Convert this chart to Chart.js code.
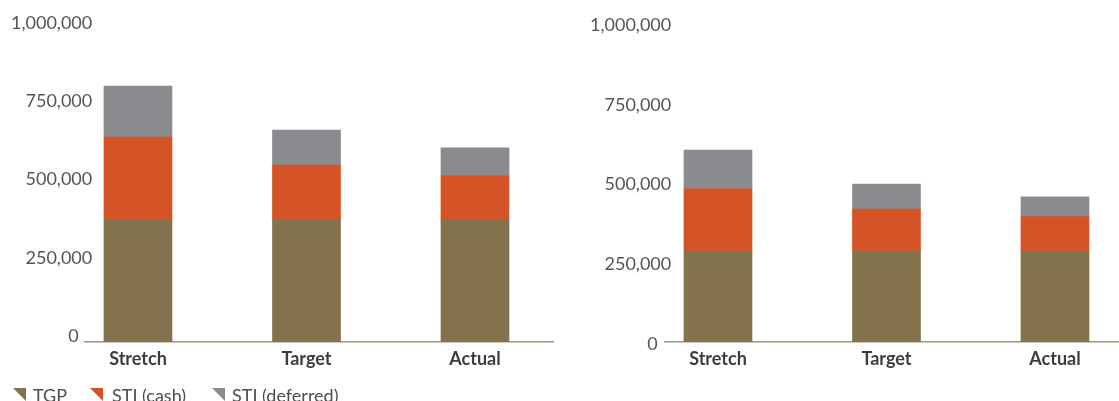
<!DOCTYPE html>
<html>
<head>
<meta charset="utf-8">
<script src="https://cdn.jsdelivr.net/npm/chart.js@4.4.1/dist/chart.umd.min.js"></script>
<style>
  html, body { margin: 0; padding: 0; background: #fff; }
  body { width: 1119px; height: 401px; position: relative; overflow: hidden; font-family: Lato, "Open Sans", sans-serif; }
  .box { position: absolute; top: 0; height: 401px; }
  #leftBox { left: 0; width: 560px; }
  #rightBox { left: 580px; width: 539px; }
  .legend { position: absolute; left: 0; top: 384px; width: 500px; height: 20px; font-size: 18px; color: #4d4d4d; }
  .mark { position: absolute; top: 4px; width: 13px; height: 13px; clip-path: polygon(0 0, 100% 0, 100% 100%); }
  .txt { position: absolute; top: 1px; line-height: 20px; white-space: nowrap; }
</style>
</head>
<body>
<div class="box" id="leftBox"><canvas id="left" width="560" height="401"></canvas></div>
<div class="box" id="rightBox"><canvas id="right" width="539" height="401"></canvas></div>
<div class="legend" id="legend"></div>
<script>
// Categories and stacked components
const categories = ['Stretch', 'Target', 'Actual'];
const seriesNames = ['TGP', 'STI (cash)', 'STI (deferred)'];
const seriesColors = ['#83734d', '#d45427', '#8a8b8f'];

// Left panel
const leftTGP = [390000, 390000, 390000];
const leftCash = [265000, 175000, 141000];
const leftDeferred = [163000, 112000, 89000];

// Right panel
const rightTGP = [285000, 285000, 285000];
const rightCash = [195000, 132000, 108000];
const rightDeferred = [122000, 78000, 62000];

const yTicks = [0, 250000, 500000, 750000, 1000000];

function fmt(v) { return v.toLocaleString('en-US'); }

function makeChart(id, series, opts) {
  const datasets = series.map((vals, i) => ({
    label: seriesNames[i],
    data: vals.map((v, j) => ({ x: j, y: v })),
    backgroundColor: seriesColors[i],
    borderWidth: 0,
    barThickness: 68
  }));
  return new Chart(document.getElementById(id), {
    type: 'bar',
    data: { datasets },
    options: {
      responsive: false,
      animation: false,
      events: [],
      layout: { padding: { left: 0, right: opts.padRight, top: opts.padTop, bottom: 0 } },
      plugins: { legend: { display: false }, tooltip: { enabled: false } },
      scales: {
        x: {
          type: 'linear',
          offset: false,
          stacked: true,
          min: opts.xMin,
          max: opts.xMax,
          afterBuildTicks: s => { s.ticks = categories.map((c, i) => ({ value: i })); },
          afterFit: s => { s.height = 59; },
          grid: { display: false, drawTicks: false },
          border: { display: true, color: '#a59670', width: 1.5 },
          ticks: {
            autoSkip: false,
            maxRotation: 0,
            padding: 6,
            color: '#3d3d3d',
            font: { family: 'Lato', size: 18, weight: 'bold' },
            callback: v => categories[v]
          }
        },
        y: {
          stacked: true,
          min: 0,
          max: 1000000,
          afterBuildTicks: s => { s.ticks = yTicks.map(v => ({ value: v })); },
          afterFit: s => { s.width = 85; },
          grid: { display: false, drawTicks: false },
          border: { display: false },
          ticks: {
            mirror: true,
            crossAlign: 'far',
            padding: opts.tickPad,
            labelOffset: opts.labelOffset,
            color: '#555',
            font: { family: 'Lato', size: 18 },
            callback: v => v === 0 ? '0\u2003' : fmt(v)
          }
        }
      }
    }
  });
}

// Right-aligned tick labels end just past the axis start: widest label is ~82px
makeChart('left', [leftTGP, leftCash, leftDeferred],
  { padRight: 7, padTop: 29, xMin: -0.3145, xMax: 2.463, tickPad: -74, labelOffset: -6 });
makeChart('right', [rightTGP, rightCash, rightDeferred],
  { padRight: 0, padTop: 23, xMin: -0.3145, xMax: 2.38, tickPad: -75, labelOffset: 2 });

// Shared legend
const legendPos = [[13, 33], [90, 112], [212, 232]];
const legend = document.getElementById('legend');
seriesNames.forEach((name, i) => {
  const m = document.createElement('div');
  m.className = 'mark';
  m.style.left = legendPos[i][0] + 'px';
  m.style.background = seriesColors[i];
  const t = document.createElement('div');
  t.className = 'txt';
  t.style.left = legendPos[i][1] + 'px';
  t.textContent = name;
  legend.appendChild(m);
  legend.appendChild(t);
});
</script>
</body>
</html>
